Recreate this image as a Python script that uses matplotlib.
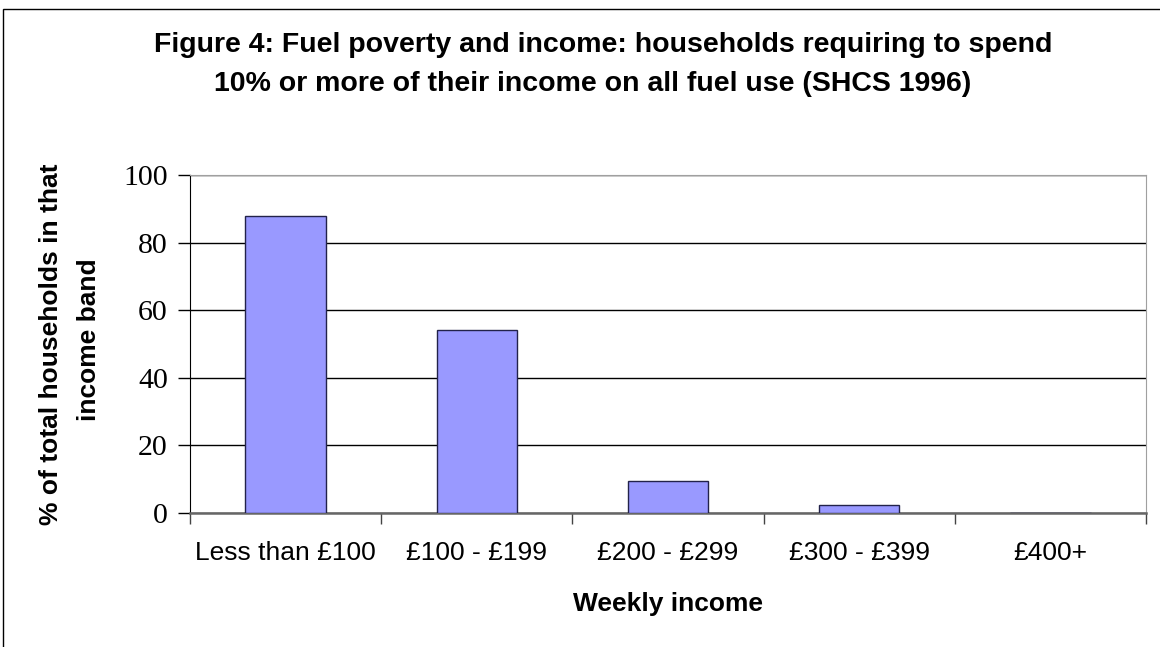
import matplotlib
matplotlib.use("Agg")
import matplotlib.pyplot as plt
from matplotlib.patches import Rectangle

# values
categories = ["Less than £100", "£100 - £199", "£200 - £299", "£300 - £399", "£400+"]
pct_households = [88, 54, 9.4, 2.3, 0]
y_ticks = [0, 20, 40, 60, 80, 100]

W, H = 1160, 647
fig = plt.figure(figsize=(W / 100, H / 100), dpi=100)

# outer chart frame (only top and left edges are visible)
fig.patches.append(Rectangle((3 / W, -0.2), 2.0, 1.2 - 9 / H, transform=fig.transFigure,
                             fill=False, edgecolor="black", linewidth=1))

ax = fig.add_axes([190 / W, 1 - 513 / H, (1146 - 190) / W, (513 - 175) / H])

x = list(range(len(categories)))
ax.bar(x, pct_households, width=0.42, color="#9999ff", edgecolor="#22224a",
       linewidth=1, zorder=3)

ax.set_xlim(-0.5, len(categories) - 0.5)
ax.set_ylim(0, 100)
ax.set_yticks(y_ticks)
ax.set_yticklabels([str(v) for v in y_ticks], fontfamily="Liberation Serif", fontsize=21.5)
ax.yaxis.grid(True, color="black", linewidth=1, zorder=1)
ax.tick_params(axis="y", length=9, width=1, pad=7, direction="out")

# category boundaries carry the tick marks, centres carry the labels
ax.set_xticks([i - 0.5 for i in range(len(categories) + 1)])
ax.set_xticklabels([])
ax.set_xticks(x, minor=True)
ax.set_xticklabels(categories, minor=True, fontfamily="Liberation Sans", fontsize=19)
ax.tick_params(axis="x", which="major", length=8, width=1, color="#444444", direction="out")
ax.tick_params(axis="x", which="minor", length=0, pad=20)

ax.spines["left"].set_color("black")
ax.spines["bottom"].set_color("#666666")
ax.spines["bottom"].set_linewidth(1.8)
ax.spines["top"].set_color("#a0a0a0")
ax.spines["right"].set_color("#a0a0a0")
ax.set_axisbelow(True)

title_kw = dict(ha="center", va="center", fontfamily="Liberation Sans",
                fontweight="bold", fontsize=20.5)
fig.text(603 / W, 1 - 45 / H, "Figure 4: Fuel poverty and income: households requiring to spend", **title_kw)
fig.text(593 / W, 1 - 84 / H, "10% or more of their income on all fuel use (SHCS 1996)", **title_kw)

label_kw = dict(ha="center", va="center", fontfamily="Liberation Sans",
                fontweight="bold", fontsize=19)
fig.text(51 / W, 1 - 344 / H, "% of total households in that", rotation=90, **label_kw)
fig.text(89 / W, 1 - 340 / H, "income band", rotation=90, **label_kw)

fig.text(668 / W, 1 - 604 / H, "Weekly income", **label_kw)

fig.savefig("out.png", dpi=100)
